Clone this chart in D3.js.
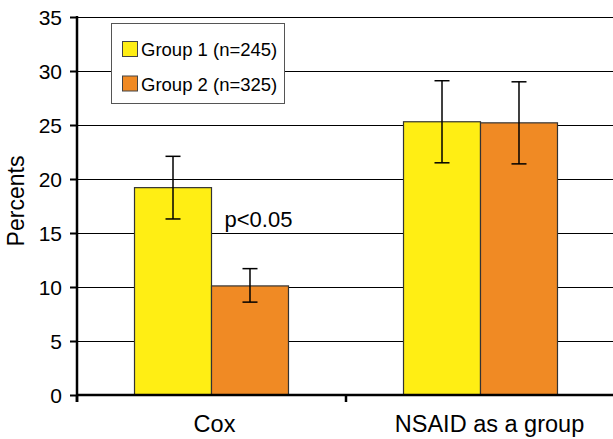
<!DOCTYPE html>
<html>
<head>
<meta charset="utf-8">
<script src="https://cdn.jsdelivr.net/npm/d3@7"></script>
<style>
  html, body { margin: 0; padding: 0; background: #fff; }
  svg { display: block; font-family: "Liberation Sans", Arial, sans-serif; }
</style>
</head>
<body>
<svg id="chart" width="613" height="439"></svg>
<script>
const categories = ["Cox", "NSAID as a group"];
const groups = ["Group 1 (n=245)", "Group 2 (n=325)"];
const group1Values = [19.2, 25.3];
const group2Values = [10.1, 25.2];
const group1Low = [16.3, 21.5];
const group1High = [22.1, 29.1];
const group2Low = [8.6, 21.4];
const group2High = [11.7, 29.0];
const yTicks = [0, 5, 10, 15, 20, 25, 30, 35];
const annotation = "p<0.05";
const yLabel = "Percents";

const colors = ["#FFEE14", "#F08A24"];

const svg = d3.select("#chart");
const mLeft = 77, mRight = 615, mTop = 17, mBottom = 395;

const x0 = d3.scaleBand().domain(categories).range([mLeft, mRight]).paddingInner(0).paddingOuter(0);
const x1 = d3.scaleBand().domain(groups).range([0, x0.bandwidth()]).paddingInner(0).paddingOuter(0.747);
const y = d3.scaleLinear().domain([0, 35]).range([mBottom, mTop]);

// gridlines
svg.append("g").selectAll("line").data(yTicks.filter(d => d > 0)).join("line")
  .attr("x1", mLeft).attr("x2", 613)
  .attr("y1", d => Math.round(y(d)) + 0.5).attr("y2", d => Math.round(y(d)) + 0.5)
  .attr("stroke", "#000").attr("stroke-width", 1);

const data = [];
categories.forEach((c, i) => {
  data.push({cat: c, grp: groups[0], v: group1Values[i], lo: group1Low[i], hi: group1High[i], col: colors[0]});
  data.push({cat: c, grp: groups[1], v: group2Values[i], lo: group2Low[i], hi: group2High[i], col: colors[1]});
});

// bars
svg.append("g").selectAll("rect").data(data).join("rect")
  .attr("x", d => x0(d.cat) + x1(d.grp))
  .attr("y", d => y(d.v))
  .attr("width", x1.bandwidth())
  .attr("height", d => y(0) - y(d.v))
  .attr("fill", d => d.col)
  .attr("stroke", "#333").attr("stroke-width", 1.2);

// error bars
const eb = svg.append("g").attr("stroke", "#000").attr("stroke-width", 1.5);
data.forEach(d => {
  const cx = x0(d.cat) + x1(d.grp) + x1.bandwidth() / 2;
  eb.append("line").attr("x1", cx).attr("x2", cx).attr("y1", y(d.lo)).attr("y2", y(d.hi));
  eb.append("line").attr("x1", cx - 7.5).attr("x2", cx + 7.5).attr("y1", y(d.lo)).attr("y2", y(d.lo));
  eb.append("line").attr("x1", cx - 7.5).attr("x2", cx + 7.5).attr("y1", y(d.hi)).attr("y2", y(d.hi));
});

// y axis
const yAxis = svg.append("g").attr("transform", `translate(${mLeft},0)`)
  .call(d3.axisLeft(y).tickValues(yTicks).tickSize(7).tickPadding(8).tickSizeOuter(0));
yAxis.select(".domain").remove();
yAxis.selectAll(".tick line").attr("stroke", "#000").attr("stroke-width", 2);
yAxis.selectAll(".tick text").attr("font-size", 21).attr("fill", "#000").attr("dy", "0.36em")
  .attr("font-family", "'Liberation Sans', Arial, sans-serif");
svg.append("line").attr("x1", mLeft).attr("x2", mLeft).attr("y1", mTop - 1).attr("y2", mBottom + 7)
  .attr("stroke", "#000").attr("stroke-width", 2.5);

// x axis
svg.append("line").attr("x1", mLeft).attr("x2", 613).attr("y1", mBottom).attr("y2", mBottom)
  .attr("stroke", "#000").attr("stroke-width", 2.5);
const boundaries = categories.map(c => x0(c)).concat([x0.range()[1]]);
svg.append("g").selectAll("line").data(boundaries).join("line")
  .attr("x1", d => d).attr("x2", d => d).attr("y1", mBottom).attr("y2", mBottom + 7)
  .attr("stroke", "#000").attr("stroke-width", 2.5);
svg.append("g").selectAll("text").data(categories).join("text")
  .attr("x", (d, i) => x0(d) + x0.bandwidth() / 2 + (i === 0 ? 3 : 9))
  .attr("y", 432)
  .attr("text-anchor", "middle").attr("font-size", 23.5).attr("fill", "#000")
  .text(d => d);

// y label
svg.append("text").attr("transform", "translate(24,201) rotate(-90)")
  .attr("text-anchor", "middle").attr("font-size", 23).attr("fill", "#000").text(yLabel);

// annotation
svg.append("text").attr("x", x0(categories[0]) + x1(groups[1]) + 13).attr("y", 227)
  .attr("font-size", 22).attr("fill", "#000").text(annotation);

// legend
const lg = svg.append("g");
lg.append("rect").attr("x", 111.5).attr("y", 23.5).attr("width", 173).attr("height", 80)
  .attr("fill", "#fff").attr("stroke", "#555").attr("stroke-width", 1);
groups.forEach((g, i) => {
  lg.append("rect").attr("x", 122.5).attr("y", 41.5 + i * 34.5).attr("width", 15).attr("height", 15)
    .attr("fill", colors[i]).attr("stroke", "#444").attr("stroke-width", 1);
  lg.append("text").attr("x", 141).attr("y", 56 + i * 34.5).attr("font-size", 18.5).attr("fill", "#000").text(g);
});
</script>
</body>
</html>
